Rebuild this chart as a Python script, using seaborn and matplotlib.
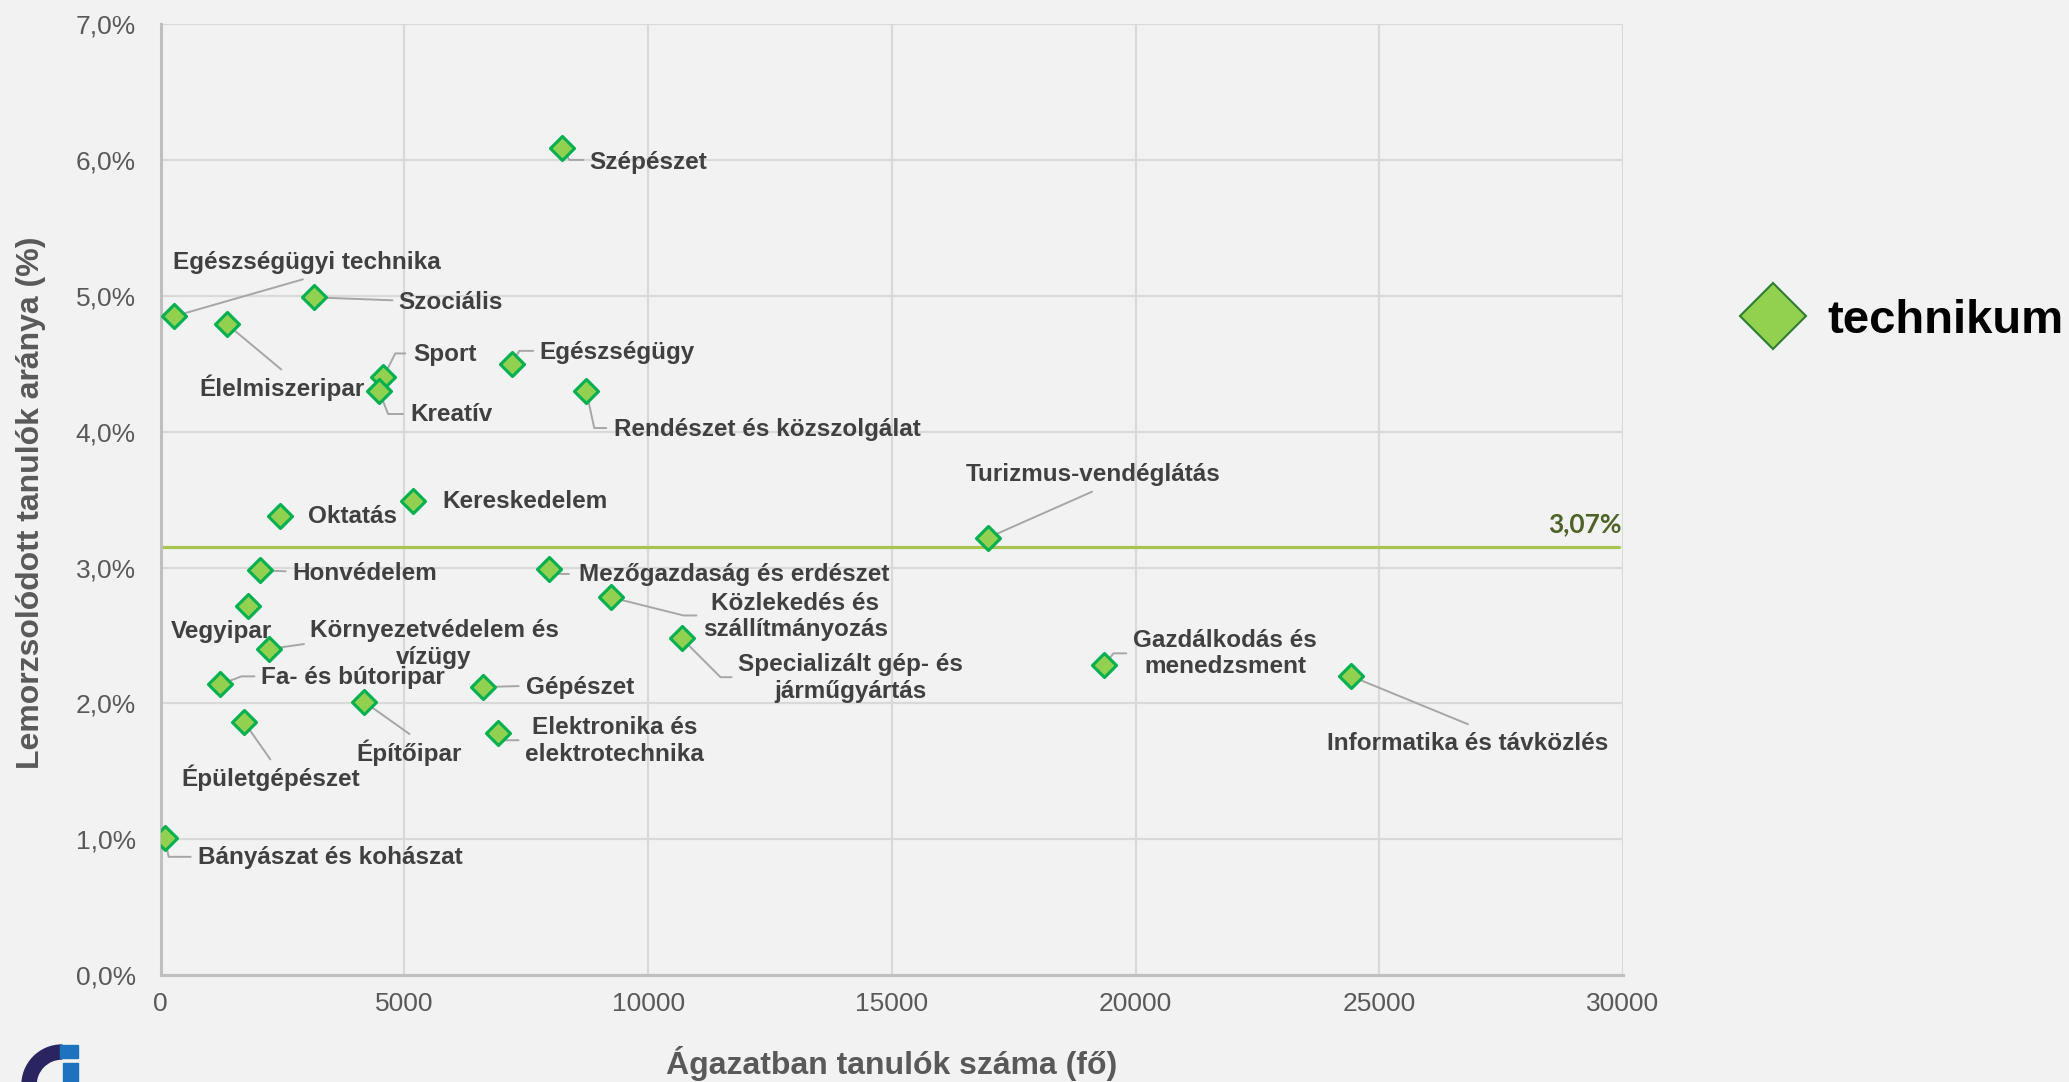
import math
import matplotlib
matplotlib.use("Agg")
import matplotlib.pyplot as plt
import seaborn as sns
import pandas as pd
from matplotlib.lines import Line2D
from matplotlib.patches import Wedge, Rectangle

# ágazatok, tanulólétszám (fő) és lemorzsolódási arány (%)
agazatok = ["Szépészet", "Egészségügyi technika", "Szociális", "Élelmiszeripar",
            "Sport", "Kreatív", "Egészségügy", "Rendészet és közszolgálat",
            "Oktatás", "Kereskedelem", "Turizmus-vendéglátás", "Honvédelem",
            "Mezőgazdaság és erdészet", "Vegyipar", "Közlekedés és szállítmányozás",
            "Környezetvédelem és vízügy", "Specializált gép- és járműgyártás",
            "Gazdálkodás és menedzsment", "Informatika és távközlés",
            "Fa- és bútoripar", "Gépészet", "Építőipar", "Épületgépészet",
            "Elektronika és elektrotechnika", "Bányászat és kohászat"]
tanulok = [8240, 270, 3135, 1365, 4565, 4480, 7210, 8730,
           2450, 5180, 16975, 2030, 7965, 1800, 9245,
           2220, 10685, 19360, 24420, 1225, 6605, 4180, 1715,
           6910, 80]
arany = [6.09, 4.85, 4.99, 4.79, 4.40, 4.30, 4.50, 4.30,
         3.38, 3.49, 3.22, 2.98, 2.99, 2.72, 2.78,
         2.40, 2.48, 2.28, 2.20, 2.14, 2.12, 2.01, 1.86,
         1.78, 1.01]
atlag_vonal = 3.15
atlag_felirat = "3,07%"
sorozat = "technikum"
x_ticks = [0, 5000, 10000, 15000, 20000, 25000, 30000]
y_ticks = [0, 1, 2, 3, 4, 5, 6, 7]
y_ticklabels = [f"{v:.1f}%".replace(".", ",") for v in y_ticks]

# címkék elhelyezése (pixel eltolás a ponthoz képest, y lefelé)
# (igazítás, dx, dy, vezetővonal: None / ('s', vx, vy) / ('e', könyök x, y, vég x))
cimke = {
    "Szépészet": ("l", 27, 15, ("e", 7, 12, 21)),
    "Egészségügyi technika": ("l", -1, -54, ("s", 129, -37)),
    "Szociális": ("l", 85, 5, ("s", 79, 3)),
    "Élelmiszeripar": ("c", 55, 63, ("s", 54, 45)),
    "Sport": ("l", 30, -23, ("e", 12, -24, 22)),
    "Kreatív": ("l", 31, 23, ("e", 9, 23, 24)),
    "Egészségügy": ("l", 27, -11, ("e", 7, -13, 21)),
    "Rendészet és közszolgálat": ("l", 28, 38, ("e", 8, 37, 20)),
    "Oktatás": ("l", 28, 1, None),
    "Kereskedelem": ("l", 29, 0, None),
    "Turizmus-vendéglátás": ("c", 105, -63, ("s", 104, -46)),
    "Honvédelem": ("l", 33, 3, ("s", 26, 1)),
    "Mezőgazdaság és erdészet": ("l", 30, 6, ("e", 4, 5, 20)),
    "Vegyipar": ("c", -27, 26, None),
    "Közlekedés és szállítmányozás": ("c", 184, 19, ("e", 72, 18, 85)),
    "Környezetvédelem és vízügy": ("c", 165, -5, ("s", 35, -5)),
    "Specializált gép- és járműgyártás": ("c", 169, 40, ("e", 39, 39, 50)),
    "Gazdálkodás és menedzsment": ("c", 121, -12, ("e", 9, -12, 22)),
    "Informatika és távközlés": ("c", 117, 67, ("s", 117, 48)),
    "Fa- és bútoripar": ("l", 41, -7, ("e", 21, -8, 34)),
    "Gépészet": ("l", 43, 0, ("s", 36, -1)),
    "Építőipar": ("c", 45, 51, ("s", 45, 32)),
    "Épületgépészet": ("c", 26, 55, ("s", 26, 37)),
    "Elektronika és elektrotechnika": ("c", 117, 8, ("e", 6, 7, 21)),
    "Bányászat és kohászat": ("l", 33, 20, ("e", 4, 19, 26)),
}
tordeles = {
    "Közlekedés és szállítmányozás": "Közlekedés és\nszállítmányozás",
    "Környezetvédelem és vízügy": "Környezetvédelem és\nvízügy",
    "Specializált gép- és járműgyártás": "Specializált gép- és\njárműgyártás",
    "Gazdálkodás és menedzsment": "Gazdálkodás és\nmenedzsment",
    "Elektronika és elektrotechnika": "Elektronika és\nelektrotechnika",
}

df = pd.DataFrame({"agazat": agazatok, "tanulok": tanulok, "arany": arany})

sns.set_theme(style="white")
plt.rcParams["font.family"] = ["Liberation Sans", "DejaVu Sans"]

bg = "#F2F2F2"
fig = plt.figure(figsize=(20.69, 10.82), dpi=100, facecolor=bg)
ax = fig.add_axes([0.0777, 0.0989, 0.7067, 0.8786])
ax.set_facecolor(bg)

ax.axhline(atlag_vonal, xmin=0, xmax=0.997, color="#A9C44C", lw=2.3, zorder=2)

sns.scatterplot(data=df, x="tanulok", y="arany", ax=ax, marker="D", s=150,
                color="#92D050", edgecolor="#00B050", linewidth=2.2,
                legend=False, zorder=4)

lead_kw = dict(arrowstyle="-", color="#A6A6A6", lw=1.4, shrinkA=0, shrinkB=0)
for nev, x, y in zip(agazatok, tanulok, arany):
    ig, dx, dy, lead = cimke[nev]
    ax.annotate(tordeles.get(nev, nev), xy=(x, y), xytext=(dx, -dy),
                textcoords="offset pixels", ha="left" if ig == "l" else "center",
                va="center", multialignment="center", linespacing=1.2,
                fontsize=17.5, fontweight="bold", color="#404040", zorder=5)
    if lead is None:
        continue
    if lead[0] == "s":
        ax.annotate("", xy=(x, y), xytext=(lead[1], -lead[2]),
                    textcoords="offset pixels", arrowprops=lead_kw, zorder=3)
    else:
        angB = math.degrees(math.atan2(-lead[2], lead[1]))
        ax.annotate("", xy=(x, y), xytext=(lead[3], -lead[2]),
                    textcoords="offset pixels",
                    arrowprops=dict(lead_kw, connectionstyle=f"angle,angleA=0,angleB={angB},rad=0"),
                    zorder=3)

ax.annotate(atlag_felirat, xy=(1, atlag_vonal), xycoords=("axes fraction", "data"),
            xytext=(-1, 23), textcoords="offset pixels", ha="right", va="center",
            fontsize=19, fontweight="bold", color="#4F6228", family=["Lato", "DejaVu Sans"])

ax.set_xlim(0, 30000)
ax.set_ylim(0, 7)
ax.set_xticks(x_ticks)
ax.set_xticklabels([str(v) for v in x_ticks])
ax.set_yticks(y_ticks)
ax.set_yticklabels(y_ticklabels)
ax.grid(True, color="#D9D9D9", lw=1.6, zorder=0)
ax.set_axisbelow(True)
for s in ["top", "right"]:
    ax.spines[s].set_visible(False)
for s in ["left", "bottom"]:
    ax.spines[s].set_color("#BFBFBF")
    ax.spines[s].set_linewidth(2.2)
ax.tick_params(axis="both", length=0, labelsize=19, labelcolor="#595959")
ax.tick_params(axis="x", pad=12)
ax.tick_params(axis="y", pad=18)

ax.set_xlabel("Ágazatban tanulók száma (fő)", fontsize=23, fontweight="bold", color="#595959")
ax.set_ylabel("Lemorzsolódott tanulók aránya (%)", fontsize=23, fontweight="bold", color="#595959")
ax.xaxis.set_label_coords(0.5, -0.0936)
ax.xaxis.label.set_va("center")
ax.yaxis.set_label_coords(-0.089, 0.497)
ax.yaxis.label.set_va("center")

h = Line2D([], [], marker="D", ls="none", markersize=33.5, markerfacecolor="#92D050",
           markeredgecolor="#2E7D32", markeredgewidth=1.5)
leg = fig.legend([h], [sorozat], loc="center left", bbox_to_anchor=(0.8398, 0.7035),
                 frameon=False, prop={"size": 34, "weight": "bold"}, handlelength=1.5,
                 handletextpad=0.41, borderpad=0, borderaxespad=0, numpoints=1)
for t in leg.get_texts():
    t.set_color("#000000")

# logó a bal alsó sarokban
tr = fig.dpi_scale_trans
fig.add_artist(Wedge((0.62, -0.03), 0.40, 90, 182, width=0.14, color="#2A2560", transform=tr))
fig.add_artist(Rectangle((0.60, 0.24), 0.18, 0.13, color="#1E73BE", transform=tr))
fig.add_artist(Rectangle((0.63, 0.0), 0.15, 0.19, color="#1E73BE", transform=tr))

fig.savefig("out.png", dpi=100, facecolor=bg)
